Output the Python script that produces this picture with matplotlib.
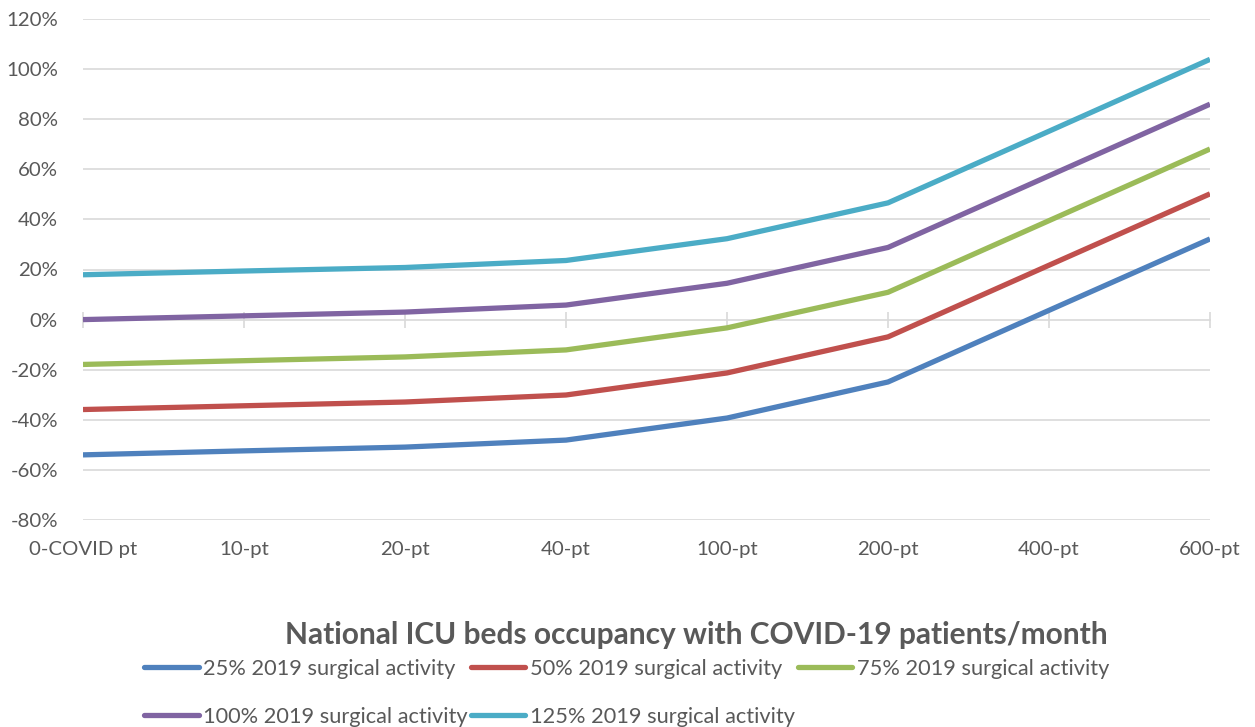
import matplotlib
matplotlib.use("Agg")
import matplotlib.pyplot as plt
from matplotlib.ticker import FuncFormatter

plt.rcParams['font.family'] = ['Lato', 'DejaVu Sans']

categories = ["0-COVID pt", "10-pt", "20-pt", "40-pt", "100-pt", "200-pt", "400-pt", "600-pt"]
s25 = [-54, -52.4, -50.9, -48.1, -39.3, -24.9, 3.7, 32.2]
s50 = [-35.9, -34.4, -32.9, -30.1, -21.3, -6.9, 21.7, 50.2]
s75 = [-17.9, -16.4, -14.9, -12.1, -3.3, 10.9, 39.5, 68.1]
s100 = [0, 1.5, 3.0, 5.8, 14.5, 28.8, 57.4, 86.0]
s125 = [17.9, 19.4, 20.8, 23.6, 32.3, 46.6, 75.2, 103.9]
series_labels = ["25% 2019 surgical activity", "50% 2019 surgical activity",
                 "75% 2019 surgical activity", "100% 2019 surgical activity",
                 "125% 2019 surgical activity"]
title = "National ICU beds occupancy with COVID-19 patients/month"
yticks = [-80, -60, -40, -20, 0, 20, 40, 60, 80, 100, 120]

colors = ["#4F81BD", "#C0504D", "#9BBB59", "#8064A2", "#4BACC6"]
txt = "#595959"
grid = "#D9D9D9"

fig = plt.figure(figsize=(12.55, 7.27), dpi=100)
ax = fig.add_axes([83/1255, 1-520/727, (1210-83)/1255, (520-19)/727])

x = list(range(len(categories)))
lines = []
for vals, c, lab in zip([s25, s50, s75, s100, s125], colors, series_labels):
    ln, = ax.plot(x, vals, color=c, lw=3.8, label=lab, solid_capstyle='butt', zorder=3)
    lines.append(ln)

ax.set_xlim(0, len(categories)-1)
ax.set_ylim(-80, 120)
ax.set_yticks(yticks)
ax.yaxis.set_major_formatter(FuncFormatter(lambda v, p: f"{v:.0f}%"))
for yv in yticks:
    if yv != 0:
        ax.axhline(yv, color=grid, lw=1.2, zorder=1)
for s in ax.spines.values():
    s.set_visible(False)
ax.tick_params(axis='y', length=0, pad=18, labelsize=14.7, labelcolor=txt)
ax.set_xticks(x)
ax.set_xticklabels(categories)
ax.tick_params(axis='x', length=0, pad=15, labelsize=14.7, labelcolor=txt)

# axis line at zero with crossing tick marks
sec = ax.secondary_xaxis(0, transform=ax.transData)
sec.set_xticks(x)
sec.set_xticklabels([])
sec.spines['bottom'].set_color(grid)
sec.spines['bottom'].set_linewidth(1.2)
sec.tick_params(axis='x', direction='inout', length=11, width=1.2, color=grid)

fig.text(696/1255, 1-635/727, title, ha='center', va='center', fontsize=21.5,
         fontweight='bold', color=txt)

order = [0, 3, 1, 4, 2]
leg = fig.legend([lines[i] for i in order], [series_labels[i] for i in order],
                 ncol=3, loc='upper left', bbox_to_anchor=(144/1255, 1-659/727),
                 frameon=False, fontsize=15.7, handlelength=2.5, handletextpad=0.2,
                 columnspacing=0.15, labelspacing=1.28, borderpad=0, borderaxespad=0)
for t in leg.get_texts():
    t.set_color(txt)
for h in leg.legend_handles:
    h.set_solid_capstyle('round')

fig.savefig("out.png", dpi=100)
